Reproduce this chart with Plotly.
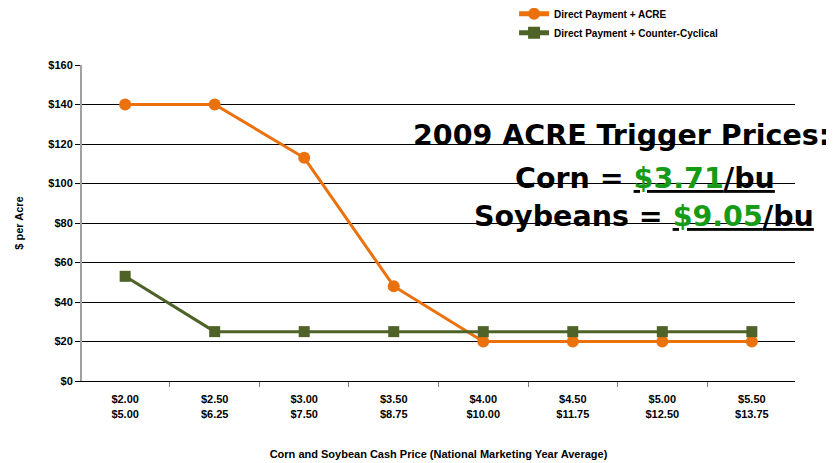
import plotly.graph_objects as go

categories = ["$2.00<br>$5.00", "$2.50<br>$6.25", "$3.00<br>$7.50", "$3.50<br>$8.75",
              "$4.00<br>$10.00", "$4.50<br>$11.75", "$5.00<br>$12.50", "$5.50<br>$13.75"]
acre = [140, 140, 113, 48, 20, 20, 20, 20]
counter_cyclical = [53, 25, 25, 25, 25, 25, 25, 25]

ORANGE = "#EA710C"
GREEN = "#4F6228"
NARROW = "Liberation Sans Narrow, Arial Narrow, Liberation Sans, sans-serif"

fig = go.Figure()
fig.add_trace(go.Scatter(x=categories, y=acre, mode="lines+markers",
                         name="<b>Direct Payment + ACRE</b>",
                         line=dict(color=ORANGE, width=3),
                         marker=dict(symbol="circle", size=12, color=ORANGE)))
fig.add_trace(go.Scatter(x=categories, y=counter_cyclical, mode="lines+markers",
                         name="<b>Direct Payment + Counter-Cyclical</b>",
                         line=dict(color=GREEN, width=3),
                         marker=dict(symbol="square", size=11, color=GREEN)))

fig.update_layout(
    width=826, height=455,
    margin=dict(l=74, r=39, t=57, b=82, autoexpand=False),
    paper_bgcolor="white", plot_bgcolor="white",
    showlegend=True,
    legend=dict(x=0.606, y=1.208, xanchor="left", yanchor="top",
                font=dict(family="Liberation Sans", size=10, color="#000"),
                bgcolor="rgba(0,0,0,0)", tracegroupgap=0, itemsizing="constant"),
    xaxis=dict(type="category", tickson="boundaries", ticks="outside", ticklen=5,
               tickcolor="#808080", showgrid=False,
               showline=True, linecolor="#000000", linewidth=1,
               tickmode="array", tickvals=categories,
               ticktext=["<b>" + c + "</b>" for c in categories],
               ticklabelstandoff=8,
               tickfont=dict(family=NARROW, size=11, color="#000"),
               title=dict(text="<b>Corn and Soybean Cash Price (National Marketing Year Average)</b>",
                          font=dict(family="Liberation Sans", size=11, color="#000"), standoff=31)),
    yaxis=dict(range=[0, 160], dtick=20, tickprefix="<b>$", ticksuffix="</b>", ticks="outside", ticklen=5,
               tickcolor="#000", showgrid=True, gridcolor="#000000", gridwidth=1,
               showline=True, linecolor="#A0A0A0", linewidth=2, zeroline=False,
               tickfont=dict(family=NARROW, size=11, color="#000"),
               title=dict(text="<b>$ per Acre</b>",
                          font=dict(family="Liberation Sans", size=11, color="#000"), standoff=22)),
)

BIG = dict(family="DejaVu Sans", size=28.5, color="#000")
fig.add_annotation(xref="paper", yref="paper", x=1.052, y=0.778, xanchor="right", yanchor="middle",
                   text="<b>2009 ACRE Trigger Prices:</b>", showarrow=False, font=BIG)
fig.add_annotation(xref="paper", yref="paper", x=0.975, y=0.642, xanchor="right", yanchor="middle",
                   text="<b>Corn = <u><span style='color:#169B16'>$3.71</span>/bu</u></b>",
                   showarrow=False, font=BIG)
fig.add_annotation(xref="paper", yref="paper", x=1.03, y=0.519, xanchor="right", yanchor="middle",
                   text="<b>Soybeans = <u><span style='color:#169B16'>$9.05</span>/bu</u></b>",
                   showarrow=False, font=BIG)

fig.write_html("out.html")
